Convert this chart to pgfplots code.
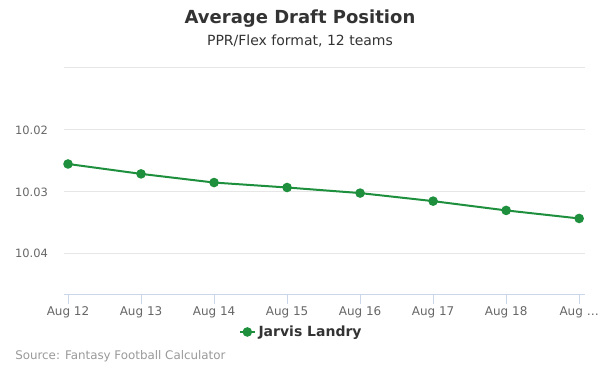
\documentclass[border=0pt]{standalone}
\usepackage{pgfplots}
\pgfplotsset{compat=1.18}
\usepackage{fontspec}
\setmainfont{DejaVu Sans}
\definecolor{linegreen}{HTML}{1D8F3D}
\definecolor{gridgray}{HTML}{E6E6E6}
\definecolor{axisblue}{HTML}{CCD6EB}
\definecolor{labelgray}{HTML}{666666}
\definecolor{titlegray}{HTML}{333333}
\definecolor{creditgray}{HTML}{999999}
\begin{document}
\begin{tikzpicture}
\useasboundingbox (0pt,0pt) rectangle (450pt,281.25pt);
\node[font=\bfseries\fontsize{13.5}{16}\selectfont, text=titlegray] at (225pt,267pt) {Average Draft Position};
\node[font=\fontsize{10.5}{12}\selectfont, text=titlegray] at (225pt,250.5pt) {PPR/Flex format, 12 teams};
\node[anchor=west, inner sep=0pt, font=\fontsize{8.9}{10}\selectfont, text=creditgray] at (11.25pt,14.25pt) {Source: Fantasy Football Calculator};
\begin{axis}[
  at={(48pt,60.75pt)}, anchor=south west, scale only axis,
  width=390.75pt, height=169.5pt,
  xmin=-0.055, xmax=7.08, ymin=10.01, ymax=10.0465, y dir=reverse,
  axis x line*=bottom, axis y line*=left,
  x axis line style={draw=axisblue, line width=0.75pt, -},
  y axis line style={draw=none},
  xtick={0,1,2,3,4,5,6,7},
  xticklabels={Aug 12,Aug 13,Aug 14,Aug 15,Aug 16,Aug 17,Aug 18,{Aug \ldots}},
  ytick={10.01,10.02,10.03,10.04},
  yticklabels={,10.02,10.03,10.04},
  tick align=outside,
  major tick length=7.5pt,
  xtick style={draw=axisblue, line width=0.75pt},
  ytick style={draw=none},
  ymajorgrids, major grid style={draw=gridgray, line width=0.75pt},
  ticklabel style={font=\fontsize{9}{10}\selectfont, text=labelgray},
  xticklabel style={yshift=1.5pt},
  yticklabel style={xshift=-1pt, font=\fontsize{8.6}{10}\selectfont},
  legend style={at={(0.456,-0.168)}, anchor=center, draw=none, fill=none,
    font=\bfseries\fontsize{10.5}{12}\selectfont, text=titlegray},
  legend image code/.code={\draw[mark repeat=2,mark phase=2] plot coordinates {(0pt,0pt)(5.6pt,0pt)(11.25pt,0pt)};},
]
\addplot[color=linegreen, line width=1.5pt, mark=*, mark size=2.8pt, mark options={fill=linegreen, draw=linegreen}]
  coordinates {(0,10.0255) (1,10.0271) (2,10.0285) (3,10.0293) (4,10.0302) (5,10.0315) (6,10.0330) (7,10.0343)};
\addlegendentry{Jarvis Landry}
\end{axis}
\end{tikzpicture}
\end{document}
